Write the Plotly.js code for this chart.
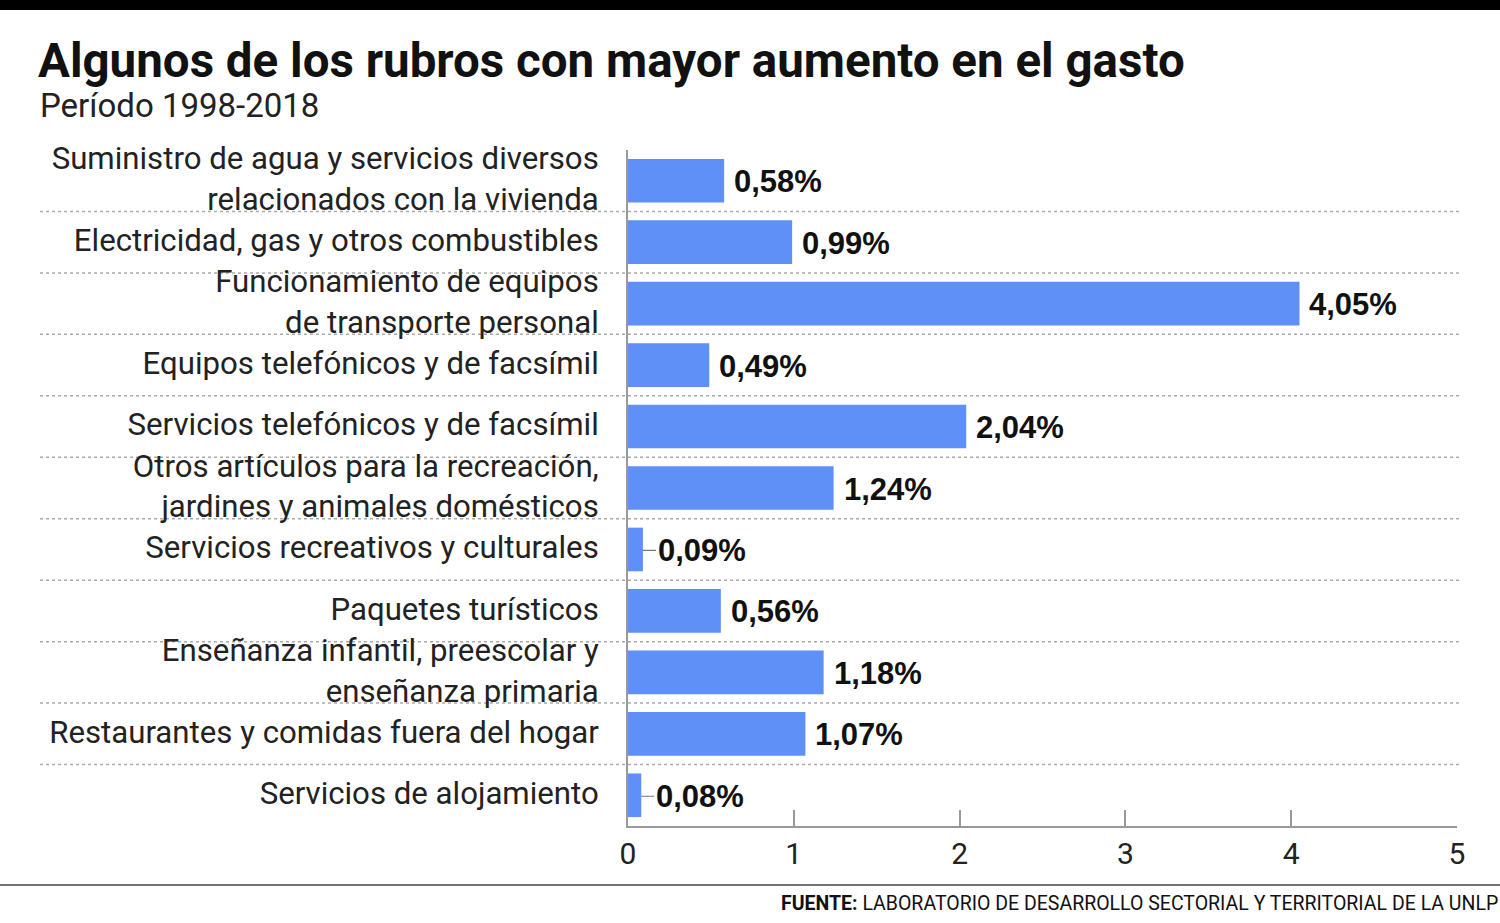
<!DOCTYPE html>
<html>
<head>
<meta charset="utf-8">
<script src="https://cdn.plot.ly/plotly-3.0.1.min.js"></script>
<style>
html,body{margin:0;padding:0;background:#fff;}
#chart{width:1500px;height:923px;}
</style>
</head>
<body>
<div id="chart"></div>
<script>
const categories = [
  "Suministro de agua y servicios diversos<br>relacionados con la vivienda",
  "Electricidad, gas y otros combustibles",
  "Funcionamiento de equipos<br>de transporte personal",
  "Equipos telefónicos y de facsímil",
  "Servicios telefónicos y de facsímil",
  "Otros artículos para la recreación,<br>jardines y animales domésticos",
  "Servicios recreativos y culturales",
  "Paquetes turísticos",
  "Enseñanza infantil, preescolar y<br>enseñanza primaria",
  "Restaurantes y comidas fuera del hogar",
  "Servicios de alojamiento"
];
const values = [0.58, 0.99, 4.05, 0.49, 2.04, 1.24, 0.09, 0.56, 1.18, 1.07, 0.08];
const tickVals = [0, 1, 2, 3, 4, 5];
const tickLabels = ["0", "1", "2", "3", "4", "5"];

const titleText = "Algunos de los rubros con mayor aumento en el gasto";
const subtitleText = "Período 1998-2018";
const sourceText = "<b>FUENTE:</b> LABORATORIO DE DESARROLLO SECTORIAL Y TERRITORIAL DE LA UNLP";

const NARROW = "'Liberation Sans Narrow', 'Roboto', sans-serif";
const W = 1500, H = 923, L = 628, R = 43, T = 150, B = 97;
const pw = W - L - R, ph = H - T - B;
const px = x => (x - L) / pw;
const py = y => (H - B - y) / ph;

const fmt = v => v.toFixed(2).replace('.', ',') + '%';

const trace = {
  type: 'bar',
  orientation: 'h',
  y: categories,
  x: values,
  marker: {color: '#5e90f7', line: {width: 0}},
  hoverinfo: 'skip'
};

const annotations = values.map((v, i) => {
  const small = v < 0.1;
  return {
    x: v, y: i, xref: 'x', yref: 'y',
    text: fmt(v),
    showarrow: small,
    arrowhead: 0, arrowwidth: 1.2, arrowcolor: '#777',
    ax: small ? 13 : 0, ay: 0,
    xanchor: 'left', yanchor: 'middle',
    xshift: small ? 0 : 8,
    yshift: -1,
    font: {family: "'Liberation Sans', Arial, sans-serif", size: 31, color: '#111', weight: 'bold'}
  };
});

annotations.push({
  xref: 'paper', yref: 'paper', x: px(38), y: py(105),
  xanchor: 'left', yanchor: 'middle', showarrow: false,
  text: subtitleText,
  font: {family: NARROW, size: 33, color: '#222'}
});
annotations.push({
  xref: 'paper', yref: 'paper', x: px(1500), y: py(903),
  xanchor: 'right', yanchor: 'middle', showarrow: false,
  text: sourceText,
  font: {family: NARROW, size: 19.5, color: '#111'}
});

const shapes = [];
for (let i = 0; i < categories.length - 1; i++) {
  shapes.push({
    type: 'line', xref: 'paper', yref: 'y',
    x0: px(40), x1: px(1462), y0: i + 0.5, y1: i + 0.5,
    line: {color: '#aaaaaa', width: 1.5, dash: 'dot'}, layer: 'below'
  });
}
shapes.push({
  type: 'rect', xref: 'paper', yref: 'paper',
  x0: px(-5), x1: px(1505), y0: py(-5), y1: py(10),
  fillcolor: '#000', line: {width: 0}
});
shapes.push({
  type: 'line', xref: 'paper', yref: 'paper',
  x0: px(0), x1: px(1500), y0: py(885), y1: py(885),
  line: {color: '#444', width: 1.5}
});

const layout = {
  width: W, height: H,
  margin: {l: L, r: R, t: T, b: B, pad: 0},
  paper_bgcolor: '#fff', plot_bgcolor: '#fff',
  showlegend: false,
  bargap: 0.29,
  title: {
    text: '<b>' + titleText + '</b>',
    x: 38 / W, xanchor: 'left', xref: 'container',
    y: 1 - 60 / H, yanchor: 'middle', yref: 'container',
    font: {family: NARROW, size: 47.5, color: '#111'}
  },
  xaxis: {
    range: [0, 5], tickvals: tickVals, ticktext: tickLabels,
    showgrid: false, zeroline: false,
    showline: true, linecolor: '#999', linewidth: 2,
    ticks: 'inside', ticklen: 16, tickwidth: 2, tickcolor: '#999',
    tickfont: {family: NARROW, size: 30, color: '#222'},
    fixedrange: true
  },
  yaxis: {
    type: 'category',
    range: [categories.length - 0.5, -0.5],
    showgrid: false, zeroline: false,
    showline: true, linecolor: '#999', linewidth: 2,
    ticks: '', ticklabelstandoff: 21, ticklabelshift: 2,
    tickfont: {family: NARROW, size: 31.2, color: '#222'},
    fixedrange: true
  },
  shapes: shapes,
  annotations: annotations
};

Plotly.newPlot('chart', [trace], layout, {displayModeBar: false, staticPlot: true});
</script>
</body>
</html>
